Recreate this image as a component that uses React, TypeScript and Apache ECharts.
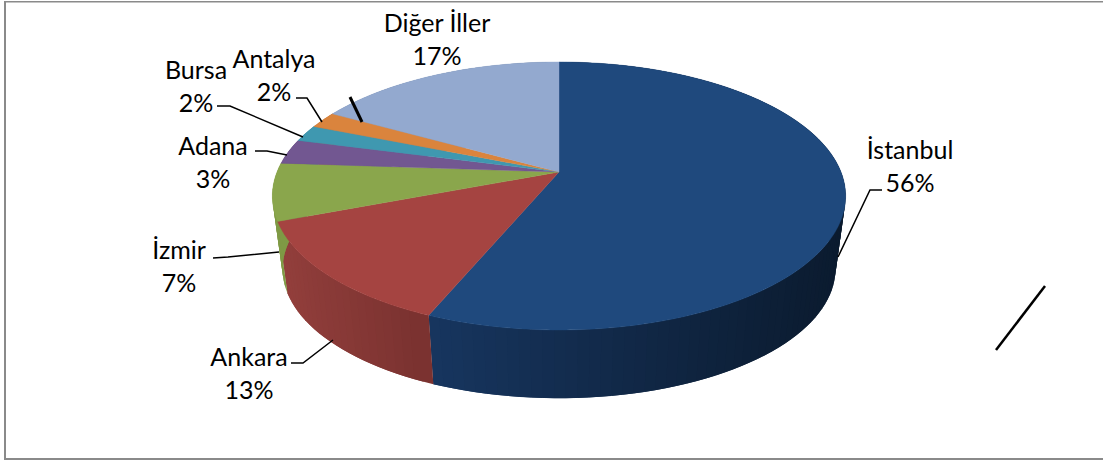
import React, { useEffect, useRef } from "react";
import * as echarts from "echarts";

const categories = ["İstanbul", "Ankara", "İzmir", "Adana", "Bursa", "Antalya", "Diğer İller"];
const shares = [56.3, 12.9, 6.9, 3, 2, 2, 16.9];

const topColors = ["#1f497d", "#a54441", "#8aa64c", "#725791", "#3f98b0", "#da843d", "#93a9cf"];
const wallStart = ["#173660", "#933f3c", "#7f9a45", "#5f4a7a", "#357f93", "#b66e33", "#7a8dad"];
const wallEnd = ["#0b1b2f", "#7a3230", "#7f9a45", "#5f4a7a", "#357f93", "#b66e33", "#7a8dad"];

const labelCentres = [
  [910, 165], [249, 372], [179, 265], [213, 161], [196, 85], [274, 74], [437, 38],
];
const leaderLines = [
  [[838, 257], [870, 190], [882, 190]],
  [[291, 363], [303, 363], [333, 340]],
  [[213, 258], [228, 257], [279, 252]],
  [[255, 151], [267, 151], [287, 155]],
  [[217, 106], [230, 106], [303, 137]],
  [[296, 98], [307, 98], [322, 122]],
];
const strayLines = [
  { from: [350, 97], to: [362, 122], width: 3 },
  { from: [996, 350], to: [1045, 286], width: 2.5 },
];

const CX = 559;
const PERSPECTIVE = 0.179;
const TOP_FACE = { a: 282, b: 129.7, cy: 172 };
const BOTTOM_FACE = { a: 272, b: 125, cy: 246 };
const FONT = "Lato, Carlito, Calibri, sans-serif";

const project = (deg: number, f: { a: number; b: number; cy: number }) => {
  const t = (deg * Math.PI) / 180;
  const w = 1 + PERSPECTIVE * Math.cos(t);
  return [CX + (f.a * Math.sin(t)) / w, f.cy - (f.b * Math.cos(t)) / w];
};

const total = shares.reduce((s, v) => s + v, 0);
const angleRange = (index: number) => {
  let before = 0;
  for (let i = 0; i < index; i++) before += shares[i];
  return [(before / total) * 360, ((before + shares[index]) / total) * 360];
};
const arc = (from: number, to: number, f: { a: number; b: number; cy: number }, perDegree = 1.5) => {
  const n = Math.max(2, Math.ceil(Math.abs(to - from) * perDegree));
  const pts: number[][] = [];
  for (let i = 0; i <= n; i++) pts.push(project(from + ((to - from) * i) / n, f));
  return pts;
};

export default function App() {
  const ref = useRef<HTMLDivElement>(null);
  useEffect(() => {
    document.body.style.margin = "0";
    const chart = echarts.init(ref.current!, undefined, { renderer: "svg" });
    const rows = categories.map((name, i) => ({ name, value: shares[i] }));
    chart.setOption({
      animation: false,
      backgroundColor: "#ffffff",
      tooltip: { show: false },
      series: [
        {
          type: "custom",
          coordinateSystem: "none",
          silent: true,
          z: 1,
          data: rows,
          renderItem: (p: any) => {
            const [a0, a1] = angleRange(p.dataIndex);
            const top = arc(a0, a1, TOP_FACE, 0.5);
            const bottom = arc(a0, a1, BOTTOM_FACE, 0.5);
            const xs = top.map((q) => q[0]);
            const minX = Math.min(...xs);
            const maxX = Math.max(...xs);
            const children = [];
            // Each strip reaches over the next one, so that no seam shows between them.
            for (let i = top.length - 2; i >= 0; i--) {
              const j = Math.min(i + 2, top.length - 1);
              const t = (top[i][0] + top[i + 1][0]) / 2;
              const color = echarts.color.lerp((t - minX) / (maxX - minX || 1), [
                wallStart[p.dataIndex],
                wallEnd[p.dataIndex],
              ]);
              children.push({
                type: "polygon",
                shape: { points: [top[i], top[j], bottom[j], bottom[i]] },
                style: { fill: color },
              });
            }
            return { type: "group", children };
          },
        },
        {
          type: "custom",
          coordinateSystem: "none",
          silent: true,
          z: 2,
          data: rows,
          renderItem: (p: any) => {
            const [a0, a1] = angleRange(p.dataIndex);
            const points = [[CX, TOP_FACE.cy], ...arc(a0, a1, TOP_FACE)];
            const c = topColors[p.dataIndex];
            return {
              type: "polygon",
              shape: { points },
              style: { fill: c, stroke: c, lineWidth: 0.4 },
            };
          },
        },
        {
          type: "custom",
          coordinateSystem: "none",
          silent: true,
          z: 3,
          data: rows,
          renderItem: (p: any) => {
            const [x, y] = labelCentres[p.dataIndex];
            return {
              type: "text",
              x,
              y,
              style: {
                text: `${categories[p.dataIndex]}\n${Math.round(shares[p.dataIndex])}%`,
                fill: "#000000",
                font: `25px ${FONT}`,
                lineHeight: 33,
                align: "center",
                verticalAlign: "middle",
              },
            };
          },
        },
      ],
      graphic: [
        ...leaderLines.map((points) => ({
          type: "polyline",
          z: 10,
          shape: { points },
          style: { stroke: "#000000", lineWidth: 1.5, fill: "none" },
        })),
        ...strayLines.map((l) => ({
          type: "line",
          z: 10,
          shape: { x1: l.from[0], y1: l.from[1], x2: l.to[0], y2: l.to[1] },
          style: { stroke: "#000000", lineWidth: l.width },
        })),
        { type: "rect", z: 11, shape: { x: 4, y: 1, width: 2, height: 459 }, style: { fill: "#8a8a8a" } },
        { type: "rect", z: 11, shape: { x: 4, y: 1, width: 1099, height: 1.5 }, style: { fill: "#8a8a8a" } },
        { type: "rect", z: 11, shape: { x: 4, y: 458, width: 1099, height: 2 }, style: { fill: "#8a8a8a" } },
      ],
    });
    return () => chart.dispose();
  }, []);
  return <div ref={ref} style={{ width: 1103, height: 461 }} />;
}
